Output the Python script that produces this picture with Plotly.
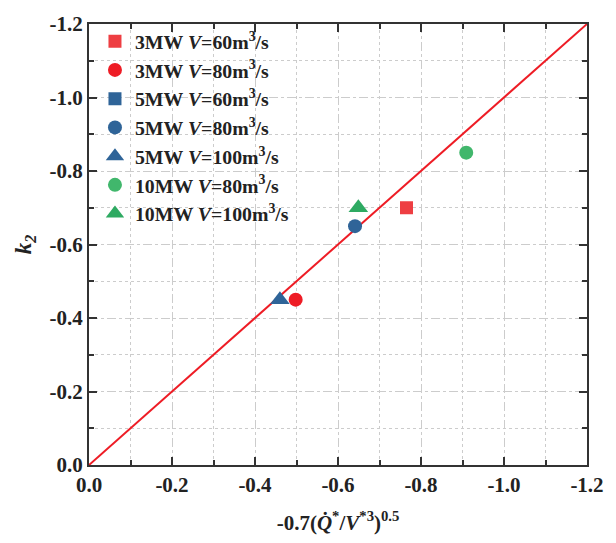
import plotly.graph_objects as go

# Scaled heat-release parameter (x) and fitted coefficient k2 (y) per case
labels = [
    "3MW <i>V</i>=60m<sup>3</sup>/s",
    "3MW <i>V</i>=80m<sup>3</sup>/s",
    "5MW <i>V</i>=60m<sup>3</sup>/s",
    "5MW <i>V</i>=80m<sup>3</sup>/s",
    "5MW <i>V</i>=100m<sup>3</sup>/s",
    "10MW <i>V</i>=80m<sup>3</sup>/s",
    "10MW <i>V</i>=100m<sup>3</sup>/s",
]
x_vals = [-0.765, -0.498, None, -0.641, -0.460, -0.909, -0.649]
y_vals = [-0.70, -0.45, None, -0.65, -0.45, -0.85, -0.70]
symbols = ["square", "circle", "square", "circle", "triangle-up", "circle", "triangle-up"]
sizes = [13, 14, 13, 14, 17, 14, 17]
colors = ["#EE3E42", "#EE1C25", "#2F6498", "#2F6498", "#2F6498", "#41B76C", "#2EAA62"]

# Reference line y = x
line_x = [0.0, -1.2]
line_y = [0.0, -1.2]

tick_vals = [0.0, -0.2, -0.4, -0.6, -0.8, -1.0, -1.2]
tick_text = ["0.0", "-0.2", "-0.4", "-0.6", "-0.8", "-1.0", "-1.2"]

FONT = "Liberation Serif"

fig = go.Figure()
fig.add_trace(go.Scatter(
    x=line_x, y=line_y, mode="lines",
    line=dict(color="#EE1C25", width=2), showlegend=False,
))
for i, (lab, xv, yv, sym, sz, col) in enumerate(zip(labels, x_vals, y_vals, symbols, sizes, colors)):
    fig.add_trace(go.Scatter(
        x=[xv], y=[yv], mode="markers", name=lab,
        legendgroup=f"g{i}",
        marker=dict(symbol=sym, size=sz, color=col, line=dict(width=0)),
    ))

axis_common = dict(
    range=[0, -1.2],
    tickvals=tick_vals, ticktext=tick_text,
    ticks="inside", ticklen=8, tickwidth=2, tickcolor="#333333",
    showline=True, linewidth=2, linecolor="#333333", mirror="ticks",
    showgrid=True, gridcolor="#CCCCCC", gridwidth=1, griddash="dash",
    zeroline=False, ticklabeloverflow="allow",
    tickfont=dict(family=FONT, size=21, color="#222222", weight="bold"),
    minor=dict(dtick=0.1, tick0=0, ticks="inside", ticklen=5, tickwidth=1.5,
               tickcolor="#333333", showgrid=True, gridcolor="#CCCCCC",
               gridwidth=1, griddash="dot"),
)

fig.update_xaxes(
    **axis_common,
    title=dict(text="-0.7(<i>Q̇</i><sup>*</sup>/<i>V</i><sup>*3</sup>)<sup>0.5</sup>",
               font=dict(family=FONT, size=21, color="#222222", weight="bold"),
               standoff=19),
)
fig.update_yaxes(
    **axis_common,
    title=dict(text="<i>k<sub>2</sub></i>",
               font=dict(family=FONT, size=23, color="#222222", weight="bold"),
               standoff=11),
)

fig.update_layout(
    width=616, height=543,
    margin=dict(l=89, r=20, t=17, b=76),
    plot_bgcolor="white", paper_bgcolor="white",
    legend=dict(
        x=0.012, y=1.005, xanchor="left", yanchor="top",
        bgcolor="rgba(0,0,0,0)", tracegroupgap=0,
        font=dict(family=FONT, size=19.8, color="#222222", weight="bold"),
    ),
)

fig.write_html("out.html")
